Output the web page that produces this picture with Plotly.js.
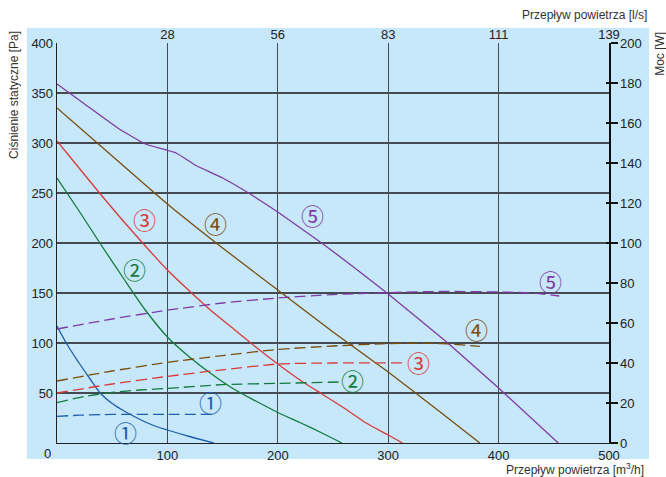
<!DOCTYPE html>
<html>
<head>
<meta charset="utf-8">
<script src="https://cdn.plot.ly/plotly-3.0.1.min.js"></script>
<style>html,body{margin:0;padding:0;background:#fff;}#chart{width:666px;height:477px;}</style>
</head>
<body>
<div id="chart"></div>
<script>
// Airflow (m3/h) vs static pressure (Pa) curves
const p1x = [0, 10, 20, 30, 40, 50, 60, 70, 80, 90, 100, 120, 142];
const p1y = [117, 97, 80, 64, 49, 39.5, 32.5, 26.5, 21, 16.5, 13, 6.5, 0];
const p2x = [0, 20, 40, 60, 80, 100, 120, 140, 160, 180, 200, 220, 240, 258];
const p2y = [265, 232, 198, 165, 133, 106, 86, 69, 54, 42, 30.5, 20.5, 10, 0];
const p3x = [0, 20, 40, 60, 80, 100, 120, 140, 160, 180, 200, 220, 240, 260, 280, 300, 313];
const p3y = [302, 275, 248, 222, 197, 173, 152, 132, 114, 96, 79, 63, 49, 35, 20, 8, 0];
const p4x = [0, 50, 100, 150, 200, 250, 300, 350, 383];
const p4y = [335, 287, 239, 195, 153, 111, 71, 28.5, 0];
const p5x = [0, 25, 55, 80, 108, 125, 150, 175, 200, 241, 265, 300, 354, 400, 454];
const p5y = [359, 339, 315, 299, 290, 278, 265, 249, 231, 199, 179, 149, 100, 55, 0];
// Airflow (m3/h) vs power (W) curves
const w1x = [0, 20, 40, 60, 100, 143];
const w1y = [13.3, 13.9, 14.2, 14.3, 14.3, 14.3];
const w2x = [0, 25, 50, 75, 100, 150, 200, 256];
const w2y = [20.2, 23.3, 25.3, 26.5, 27.3, 29.2, 29.8, 30.5];
const w3x = [0, 50, 100, 150, 200, 250, 315];
const w3y = [25, 29.5, 33.3, 36.6, 39.5, 40, 40.1];
const w4x = [0, 50, 100, 150, 200, 250, 300, 350, 383];
const w4y = [31, 36, 40.3, 43.7, 46.8, 48.5, 49.7, 49.7, 48.3];
const w5x = [0, 50, 100, 150, 200, 250, 300, 350, 400, 430, 455];
const w5y = [57, 62, 66.4, 70, 72.5, 74.2, 75.2, 75.8, 75.5, 75, 73.5];
// Ticks
const xTicks = [100, 200, 300, 400, 500];
const xTickText = ['100', '200', '300', '400', '500'];
const topTickText = ['28', '56', '83', '111', '139'];
const yTicks = [50, 100, 150, 200, 250, 300, 350, 400];
const wTicks = [0, 20, 40, 60, 80, 100, 120, 140, 160, 180, 200];
// Curve labels
const labelText = ['①', '①', '②', '②', '③', '③', '④', '④', '⑤', '⑤'];
const labelX = [139, 62, 70, 268, 79, 327, 144, 380, 231, 447];
const labelY = [41, 11, 174, 63, 224, 81, 220, 114, 228, 162];
const labelCol = [0, 0, 1, 1, 2, 2, 3, 3, 4, 4];

const colors = ['#1d5fae', '#137a3c', '#d83a3a', '#7a4c0e', '#7f3aa6'];
const smooth = [1, 0.7, 0.5, 0.5, 0.3];

const solidSets = [[p1x, p1y], [p2x, p2y], [p3x, p3y], [p4x, p4y], [p5x, p5y]];
const dashSets = [[w1x, w1y], [w2x, w2y], [w3x, w3y], [w4x, w4y], [w5x, w5y]];

const traces = [];
solidSets.forEach((s, i) => {
  traces.push({x: s[0], y: s[1], type: 'scatter', mode: 'lines', xaxis: 'x', yaxis: 'y',
    line: {color: colors[i], width: 1.3, shape: 'spline', smoothing: smooth[i]}, hoverinfo: 'skip', showlegend: false});
});
dashSets.forEach((s, i) => {
  traces.push({x: s[0], y: s[1], type: 'scatter', mode: 'lines', xaxis: 'x', yaxis: 'y2',
    line: {color: colors[i], width: 1.3, dash: '11px,5px', shape: 'spline', smoothing: 0.6}, hoverinfo: 'skip', showlegend: false});
});

const annotations = labelText.map((t, i) => ({
  x: labelX[i], y: labelY[i], xref: 'x', yref: 'y', text: t, showarrow: false,
  font: {family: 'Noto Sans CJK JP', size: 23, color: colors[labelCol[i]]}
}));
const titleFont = {family: 'Liberation Sans, Arial, sans-serif', size: 12, color: '#333'};
annotations.push(
  {xref: 'paper', yref: 'paper', x: -0.078, y: 1.035, yanchor: 'top', xanchor: 'center', textangle: -90,
   text: 'Ciśnienie statyczne [Pa]', showarrow: false, font: titleFont},
  {xref: 'paper', yref: 'paper', x: 1.0924, y: 1.033, yanchor: 'top', xanchor: 'center', textangle: -90,
   text: 'Moc [W]', showarrow: false, font: titleFont},
  {xref: 'paper', yref: 'paper', x: 1.0725, y: 1.07, xanchor: 'right', yanchor: 'middle',
   text: 'Przepływ powietrza [l/s]', showarrow: false, font: titleFont},
  {xref: 'paper', yref: 'paper', x: 1.067, y: -0.065, xanchor: 'right', yanchor: 'middle',
   text: 'Przepływ powietrza [m<sup>3</sup>/h]', showarrow: false, font: titleFont},
  {xref: 'paper', yref: 'paper', x: -0.018, y: -0.026, xanchor: 'center', yanchor: 'middle',
   text: '0', showarrow: false, font: {family: 'Liberation Sans, Arial, sans-serif', size: 13, color: '#222'}}
);

const tickFont = {family: 'Liberation Sans, Arial, sans-serif', size: 13, color: '#222'};
const gridCol = '#454b50';

const layout = {
  width: 666, height: 477,
  margin: {l: 57, r: 57, t: 43, b: 34, pad: 0},
  paper_bgcolor: '#ffffff',
  plot_bgcolor: 'rgba(0,0,0,0)',
  showlegend: false,
  xaxis: {range: [0, 500], tickvals: xTicks, ticktext: xTickText, showgrid: true, gridcolor: gridCol, gridwidth: 1.3,
    zeroline: false, showline: true, linecolor: '#222', linewidth: 1.3, ticks: '', tickfont: tickFont, fixedrange: true},
  xaxis2: {range: [0, 500], overlaying: 'x', side: 'top', tickvals: xTicks, ticktext: topTickText, showgrid: false,
    zeroline: false, showline: false, ticks: '', tickfont: tickFont, fixedrange: true},
  yaxis: {range: [0, 400], tickvals: yTicks, showgrid: true, gridcolor: gridCol, gridwidth: 1.3, zeroline: false,
    showline: true, linecolor: '#222', linewidth: 1.3, ticks: '', tickfont: tickFont, fixedrange: true},
  yaxis2: {range: [0, 200], overlaying: 'y', side: 'right', tickvals: wTicks, showgrid: false, zeroline: false,
    showline: true, linecolor: '#111', linewidth: 1.5, ticks: 'outside', ticklen: 7, tickwidth: 1.6, tickcolor: '#111',
    tickfont: tickFont, fixedrange: true},
  yaxis3: {range: [0, 200], overlaying: 'y', side: 'right', tickvals: wTicks, showgrid: false, zeroline: false,
    showline: false, ticks: 'inside', ticklen: 3, tickwidth: 1.6, tickcolor: '#111', showticklabels: false, fixedrange: true},
  shapes: [{type: 'rect', xref: 'paper', yref: 'paper', x0: -0.0543, x1: 1.0725, y0: -0.04, y1: 1.0375,
    fillcolor: '#c7e8fa', line: {width: 0}, layer: 'below'}],
  annotations: annotations
};

// invisible trace to activate the overlay axes
traces.push({x: [0], y: [0], xaxis: 'x2', yaxis: 'y3', type: 'scatter', mode: 'markers',
  marker: {opacity: 0}, hoverinfo: 'skip', showlegend: false});

Plotly.newPlot('chart', traces, layout, {displayModeBar: false, staticPlot: true});
</script>
</body>
</html>
